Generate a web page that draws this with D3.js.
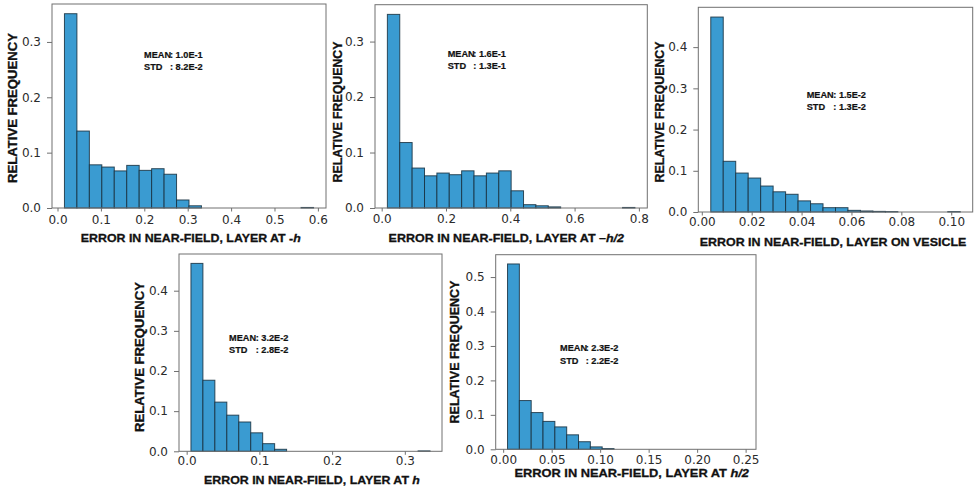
<!DOCTYPE html>
<html>
<head>
<meta charset="utf-8">
<script src="https://cdn.jsdelivr.net/npm/d3@7"></script>
<style>
  html, body { margin: 0; padding: 0; background: #fff; }
  svg { display: block; }
</style>
</head>
<body>
<svg id="chart" width="976" height="491"></svg>
<script>
// Relative frequency per bin (20 equal-width bins), one array per layer position
const freqNegH   = [0.351, 0.139, 0.078, 0.074, 0.067, 0.077, 0.068, 0.071, 0.061, 0.0145, 0.004, 0, 0, 0, 0, 0, 0, 0, 0, 0.001];
const freqNegH2  = [0.349, 0.118, 0.072, 0.058, 0.063, 0.060, 0.067, 0.058, 0.063, 0.067, 0.031, 0.006, 0.004, 0.002, 0, 0, 0, 0, 0, 0.001];
const freqVesicle= [0.473, 0.123, 0.0945, 0.0824, 0.063, 0.049, 0.043, 0.027, 0.020, 0.0105, 0.0105, 0.004, 0.0025, 0.0015, 0.001, 0, 0, 0, 0, 0.001];
const freqPosH   = [0.468, 0.177, 0.1225, 0.090, 0.073, 0.046, 0.019, 0.005, 0, 0, 0, 0, 0, 0, 0, 0, 0, 0, 0, 0.001];
const freqPosH2  = [0.538, 0.1415, 0.1066, 0.081, 0.065, 0.042, 0.022, 0.007, 0.002, 0, 0, 0, 0, 0, 0, 0, 0, 0, 0, 0];

// Bin edges: first edge and bin width of each histogram
const binStart = [0.016, 0.0177, 0.0036, 0.0059, 0.0045];
const binWidth = [0.0287, 0.0385, 0.005, 0.01644, 0.0122];

// Tick values
const xTicksNegH    = [0, 0.1, 0.2, 0.3, 0.4, 0.5, 0.6];
const xTicksNegH2   = [0, 0.2, 0.4, 0.6, 0.8];
const xTicksVesicle = [0, 0.02, 0.04, 0.06, 0.08, 0.10];
const xTicksPosH    = [0, 0.1, 0.2, 0.3];
const xTicksPosH2   = [0, 0.05, 0.10, 0.15, 0.20, 0.25];
const yTicksNegH    = [0, 0.1, 0.2, 0.3];
const yTicksNegH2   = [0, 0.1, 0.2, 0.3];
const yTicksVesicle = [0, 0.1, 0.2, 0.3, 0.4];
const yTicksPosH    = [0, 0.1, 0.2, 0.3, 0.4];
const yTicksPosH2   = [0, 0.1, 0.2, 0.3, 0.4, 0.5];

// Summary statistics shown inside each panel
const meanLabels = ["1.0E-1", "1.6E-1", "1.5E-2", "3.2E-2", "2.3E-2"];
const stdLabels  = ["8.2E-2", "1.3E-1", "1.3E-2", "2.8E-2", "2.2E-2"];

// Axis titles: plain part + italic part
const xTitlePlain  = ["ERROR IN NEAR-FIELD, LAYER AT -", "ERROR IN NEAR-FIELD, LAYER AT \u2013", "ERROR IN NEAR-FIELD, LAYER ON VESICLE", "ERROR IN NEAR-FIELD, LAYER AT ", "ERROR IN NEAR-FIELD, LAYER AT "];
const xTitleItalic = ["h", "h/2", "", "h", "h/2"];
const yTitle = "RELATIVE FREQUENCY";

// Layout of each panel (frame box, x tick gap, title placement, stats placement)
const layout = [
  { x: 52,    y: 4,     w: 274,   h: 204,   gap: 7.3, fmt: ".1f", xt: { cx: 190.8, by: 241.7, len: 220 }, yt: { cx: 12.5, cy: 108, len: 150 }, st: { x: 144,   y: 57.5, c: 170 } },
  { x: 375,   y: 4.7,   w: 272.3, h: 203.3, gap: 6.0, fmt: ".1f", xt: { cx: 506.3, by: 241.7, len: 236 }, yt: { cx: 338,  cy: 112, len: 141 }, st: { x: 447.7, y: 56.5, c: 473.3 } },
  { x: 698.3, y: 7.3,   w: 274.4, h: 204.7, gap: 5.7, fmt: ".2f", xt: { cx: 833,   by: 245.7, len: 267 }, yt: { cx: 660,  cy: 112, len: 141 }, st: { x: 806.7, y: 97.5, c: 833.3 } },
  { x: 179,   y: 254,   w: 263,   h: 197.3, gap: 5.4, fmt: ".1f", xt: { cx: 312,   by: 484.3, len: 216 }, yt: { cx: 140,  cy: 357, len: 150 }, st: { x: 229,   y: 340.5, c: 255.7 } },
  { x: 495.7, y: 254.7, w: 260.3, h: 194.6, gap: 5.7, fmt: ".2f", xt: { cx: 631.7, by: 476.8, len: 235 }, yt: { cx: 455,  cy: 352, len: 143 }, st: { x: 560,   y: 351.2, c: 585.7 } }
];

const freqs  = [freqNegH, freqNegH2, freqVesicle, freqPosH, freqPosH2];
const xTicks = [xTicksNegH, xTicksNegH2, xTicksVesicle, xTicksPosH, xTicksPosH2];
const yTicks = [yTicksNegH, yTicksNegH2, yTicksVesicle, yTicksPosH, yTicksPosH2];

const BAR_FILL = "#3a9bd1";
const BAR_EDGE = "#18303f";
const SPINE = "#707070";
const TICK_TEXT = "#2b2b2b";
const TITLE_FONT = "'Liberation Sans', Arial, sans-serif";

const svg = d3.select("#chart");

// Fit a text node to a target width by horizontal scaling about its anchor point
function fitWidth(textSel, target, ax, ay, rotate) {
  const w = textSel.node().getBBox().width;
  const s = w > 0 ? target / w : 1;
  const rot = rotate ? ` rotate(${rotate})` : "";
  textSel.attr("transform", `translate(${ax},${ay})${rot} scale(${s},1)`);
}

freqs.forEach((freq, i) => {
  const L = layout[i];
  const bins = freq.map((v, k) => ({ x0: binStart[i] + k * binWidth[i], x1: binStart[i] + (k + 1) * binWidth[i], v }));
  const lo = bins[0].x0, hi = bins[bins.length - 1].x1, span = hi - lo;
  const x = d3.scaleLinear().domain([lo - 0.05 * span, hi + 0.05 * span]).range([L.x, L.x + L.w]);
  const y = d3.scaleLinear().domain([0, d3.max(freq) * 1.05]).range([L.y + L.h, L.y]);

  const g = svg.append("g");

  // bars
  g.append("g").selectAll("rect").data(bins.filter(b => b.v > 0)).join("rect")
    .attr("x", d => x(d.x0))
    .attr("y", d => y(d.v))
    .attr("width", d => x(d.x1) - x(d.x0))
    .attr("height", d => y(0) - y(d.v))
    .attr("fill", BAR_FILL)
    .attr("stroke", BAR_EDGE)
    .attr("stroke-opacity", 0.85)
    .attr("stroke-width", 1);

  // axes
  const xAxis = d3.axisBottom(x).tickValues(xTicks[i]).tickFormat(d3.format(L.fmt)).tickSize(3.5).tickPadding(L.gap - 3.5);
  const yAxis = d3.axisLeft(y).tickValues(yTicks[i]).tickFormat(d3.format(".1f")).tickSize(5).tickPadding(6);

  const gx = g.append("g").attr("transform", `translate(0,${L.y + L.h})`).call(xAxis);
  const gy = g.append("g").attr("transform", `translate(${L.x},0)`).call(yAxis);
  [gx, gy].forEach(a => {
    a.select(".domain").remove();
    a.selectAll(".tick line").attr("stroke", SPINE);
    a.selectAll(".tick text")
      .attr("fill", TICK_TEXT)
      .style("font-family", "'DejaVu Sans', sans-serif")
      .style("font-size", "12px");
  });

  // frame
  g.append("rect")
    .attr("x", L.x).attr("y", L.y).attr("width", L.w).attr("height", L.h)
    .attr("fill", "none").attr("stroke", SPINE).attr("stroke-width", 1);

  // x title
  const xt = g.append("text")
    .attr("text-anchor", "middle")
    .style("font-family", TITLE_FONT)
    .style("font-weight", "bold")
    .style("font-size", "11.8px")
    .attr("fill", "#111")
    .attr("stroke", "#111").attr("stroke-width", 0.3);
  xt.append("tspan").text(xTitlePlain[i]);
  if (xTitleItalic[i]) xt.append("tspan").style("font-style", "italic").text(xTitleItalic[i]);
  fitWidth(xt, L.xt.len, L.xt.cx, L.xt.by, 0);

  // y title
  const yt = g.append("text")
    .attr("text-anchor", "middle")
    .style("font-family", TITLE_FONT)
    .style("font-weight", "bold")
    .style("font-size", "12px")
    .attr("fill", "#111")
    .attr("stroke", "#111").attr("stroke-width", 0.3)
    .text(yTitle);
  fitWidth(yt, L.yt.len, L.yt.cx + 4.3, L.yt.cy, -90);

  // statistics
  const stat = (lab, val, yy) => {
    const f = t => t.style("font-family", TITLE_FONT).style("font-weight", "bold").style("font-size", "9.2px")
      .attr("fill", "#111").attr("stroke", "#111").attr("stroke-width", 0.2);
    f(g.append("text").attr("x", L.st.x).attr("y", yy).text(lab));
    f(g.append("text").attr("x", L.st.c).attr("y", yy).text(": " + val));
  };
  stat("MEAN", meanLabels[i], L.st.y);
  stat("STD", stdLabels[i], L.st.y + 12.5);
});
</script>
</body>
</html>
